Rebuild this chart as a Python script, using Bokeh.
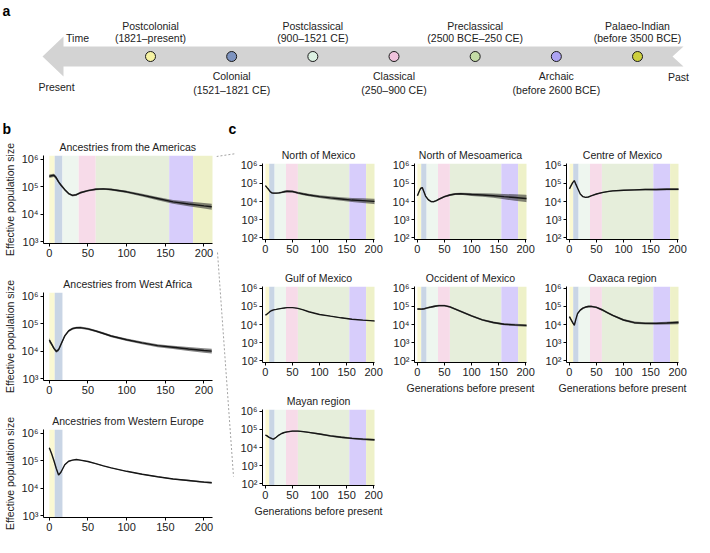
from bokeh.plotting import figure
from bokeh.layouts import column, row
from bokeh.models import Range1d, FixedTicker, CustomJSTickFormatter
from bokeh.core.properties import value
from bokeh.embed import file_html
from bokeh.resources import INLINE

FONT = "Liberation Sans"
TXT = "#222222"

# ---------------- data ----------------
ERA_NAMES = ["Postcolonial", "Colonial", "Postclassical", "Classical",
             "Preclassical", "Archaic", "Palaeo-Indian"]
ERA_DATES = ["(1821–present)", "(1521–1821 CE)", "(900–1521 CE)", "(250–900 CE)",
             "(2500 BCE–250 CE)", "(before 2600 BCE)", "(before 3500 BCE)"]
ERA_CIRCLE_COLORS = ["#f6f3a2", "#7d93bf", "#dcf1e2", "#f0c3dc",
                     "#c4dca6", "#ada3f3", "#cdcf3e"]
ERA_BAND_COLORS = ["#fbf9d3", "#c9d5e5", "#eef6ef", "#f7dbe9",
                   "#e6eedb", "#d7cdfb", "#eef1c9"]
ERA_START_GEN = [0, 7, 17, 38, 60, 155, 186]
ERA_END_GEN = [7, 17, 38, 60, 155, 186, 230]

GENERATIONS = [0, 3, 6, 9, 12, 15, 20, 25, 30, 35, 40, 50, 60, 70, 80,
               100, 120, 140, 160, 180, 200, 210]

AMERICAS_NE = [2.4e5, 2.5e5, 2.6e5, 2.1e5, 1.5e5, 1.15e5, 7.8e4, 5.6e4, 4.8e4, 5.1e4, 6.0e4,
               7.2e4, 8.1e4, 8.3e4, 7.9e4, 6.5e4, 4.9e4, 3.7e4, 2.8e4, 2.35e4, 2.0e4, 1.85e4]
AMERICAS_CI = [0.06, 0.06, 0.06, 0.06, 0.05, 0.05, 0.04, 0.035, 0.035, 0.035, 0.035,
               0.035, 0.035, 0.035, 0.035, 0.04, 0.05, 0.06, 0.07, 0.085, 0.1, 0.11]

WAFRICA_NE = [2.5e4, 1.8e4, 1.26e4, 9.8e3, 1.12e4, 1.74e4, 3.6e4, 5.5e4, 6.6e4, 7.1e4, 7.2e4,
              6.5e4, 5.4e4, 4.4e4, 3.55e4, 2.6e4, 2.0e4, 1.58e4, 1.38e4, 1.2e4, 1.05e4, 1.0e4]
WAFRICA_CI = [0.08, 0.06, 0.05, 0.05, 0.05, 0.05, 0.04, 0.04, 0.04, 0.04, 0.04,
              0.04, 0.04, 0.04, 0.04, 0.045, 0.05, 0.055, 0.06, 0.07, 0.08, 0.085]

WEUROPE_NE = [2.95e5, 1.78e5, 1.0e5, 5.2e4, 3.0e4, 3.8e4, 7.1e4, 9.5e4, 1.05e5, 1.1e5, 1.05e5,
              9.3e4, 7.8e4, 6.5e4, 5.5e4, 4.1e4, 3.2e4, 2.6e4, 2.15e4, 1.9e4, 1.66e4, 1.58e4]
WEUROPE_CI = [0.015, 0.015, 0.015, 0.015, 0.015, 0.015, 0.015, 0.015, 0.015, 0.015, 0.015,
              0.015, 0.015, 0.015, 0.015, 0.015, 0.02, 0.02, 0.02, 0.025, 0.03, 0.03]

NMEX_NE = [7.6e4, 5.9e4, 4.6e4, 3.5e4, 3.0e4, 2.9e4, 2.9e4, 3.0e4, 3.2e4, 3.5e4, 3.7e4,
           3.6e4, 3.0e4, 2.6e4, 2.3e4, 1.86e4, 1.58e4, 1.38e4, 1.2e4, 1.12e4, 1.02e4, 1.0e4]
NMEX_CI = [0.03, 0.03, 0.03, 0.03, 0.04, 0.04, 0.04, 0.05, 0.05, 0.06, 0.06,
           0.06, 0.06, 0.07, 0.07, 0.08, 0.09, 0.1, 0.11, 0.13, 0.15, 0.16]

NMESO_NE = [2.1e4, 3.5e4, 5.4e4, 5.9e4, 3.5e4, 2.0e4, 1.26e4, 1.0e4, 9.8e3, 1.12e4, 1.35e4,
            1.86e4, 2.3e4, 2.6e4, 2.7e4, 2.45e4, 2.3e4, 2.1e4, 1.86e4, 1.66e4, 1.48e4, 1.41e4]
NMESO_CI = [0.04, 0.04, 0.04, 0.04, 0.04, 0.04, 0.04, 0.04, 0.04, 0.04, 0.05,
            0.05, 0.05, 0.06, 0.06, 0.08, 0.1, 0.12, 0.15, 0.18, 0.2, 0.21]

CENTRE_NE = [5.0e4, 7.6e4, 1.12e5, 1.45e5, 8.9e4, 5.6e4, 2.6e4, 1.86e4, 1.7e4, 1.78e4, 2.05e4,
             2.6e4, 3.1e4, 3.55e4, 3.9e4, 4.2e4, 4.4e4, 4.6e4, 4.6e4, 4.8e4, 4.8e4, 4.8e4]
CENTRE_CI = [0.02, 0.02, 0.02, 0.02, 0.02, 0.02, 0.02, 0.02, 0.02, 0.02, 0.025,
             0.025, 0.03, 0.03, 0.03, 0.035, 0.04, 0.045, 0.05, 0.055, 0.06, 0.06]

GULF_NE = [3.3e4, 3.8e4, 4.5e4, 5.4e4, 6.0e4, 6.5e4, 6.9e4, 7.4e4, 7.9e4, 8.3e4, 8.7e4,
           8.7e4, 7.9e4, 6.5e4, 5.1e4, 3.6e4, 2.9e4, 2.35e4, 1.95e4, 1.74e4, 1.58e4, 1.51e4]
GULF_CI = [0.015, 0.015, 0.015, 0.015, 0.015, 0.015, 0.015, 0.015, 0.015, 0.015, 0.015,
           0.015, 0.015, 0.015, 0.015, 0.015, 0.02, 0.02, 0.02, 0.025, 0.025, 0.03]

OCCID_NE = [7.2e4, 7.2e4, 7.1e4, 7.2e4, 7.4e4, 7.9e4, 8.7e4, 9.3e4, 1.0e5, 1.07e5, 1.12e5,
            1.12e5, 9.5e4, 7.2e4, 5.4e4, 3.0e4, 1.82e4, 1.29e4, 1.04e4, 9.5e3, 8.9e3, 8.7e3]
OCCID_CI = [0.05, 0.05, 0.05, 0.05, 0.05, 0.05, 0.05, 0.05, 0.05, 0.05, 0.05,
            0.05, 0.05, 0.05, 0.05, 0.05, 0.05, 0.05, 0.055, 0.06, 0.07, 0.07]

OAXACA_NE = [2.75e4, 1.86e4, 1.26e4, 9.1e3, 2.0e4, 4.0e4, 6.3e4, 8.1e4, 9.3e4, 1.0e5, 1.02e5,
             8.9e4, 6.6e4, 4.6e4, 3.2e4, 1.78e4, 1.26e4, 1.15e4, 1.15e4, 1.2e4, 1.29e4, 1.32e4]
OAXACA_CI = [0.05, 0.05, 0.05, 0.05, 0.05, 0.05, 0.05, 0.05, 0.05, 0.05, 0.05,
             0.05, 0.05, 0.05, 0.05, 0.05, 0.06, 0.06, 0.07, 0.08, 0.09, 0.09]

MAYAN_NE = [4.9e4, 4.4e4, 3.8e4, 3.4e4, 3.1e4, 2.9e4, 3.7e4, 4.9e4, 6.0e4, 6.8e4, 7.4e4,
            8.1e4, 8.1e4, 7.6e4, 6.9e4, 5.6e4, 4.4e4, 3.7e4, 3.2e4, 2.9e4, 2.7e4, 2.6e4]
MAYAN_CI = [0.03, 0.03, 0.03, 0.03, 0.03, 0.03, 0.03, 0.03, 0.03, 0.03, 0.03,
            0.03, 0.03, 0.03, 0.035, 0.04, 0.045, 0.05, 0.05, 0.055, 0.06, 0.06]

X_TICKS = [0, 50, 100, 150, 200]
B_Y_TICKS = [1e3, 1e4, 1e5, 1e6]
C_Y_TICKS = [1e2, 1e3, 1e4, 1e5, 1e6]

SUP_FORMATTER_CODE = """
const e = Math.round(Math.log10(tick));
const sup = {2: '\u00b2', 3: '\u00b3', 4: '\u2074', 5: '\u2075', 6: '\u2076'};
return '10' + sup[e];
"""

# ---------------- panel a: timeline ----------------
TOP_H = 136
pa = figure(width=694, height=TOP_H, x_range=Range1d(0, 694), y_range=Range1d(TOP_H, 0),
            output_backend="svg", toolbar_location=None, min_border=0,
            x_axis_location=None, y_axis_location=None)
pa.outline_line_color = None
pa.grid.visible = False
pa.extra_x_ranges = {"era": Range1d(-1.848, 6.702)}

pa.patch([42, 63, 63, 683, 672, 683, 63, 63], [56, 36, 46, 46, 56, 66, 66, 76],
         fill_color="#d3d3d3", line_color=None)

idx = list(range(len(ERA_NAMES)))
pa.scatter(x=idx, y=[56] * len(idx), size=10, fill_color=ERA_CIRCLE_COLORS,
           line_color="#1a1a1a", line_width=1, x_range_name="era")

up = [i for i in idx if i % 2 == 0]
dn = [i for i in idx if i % 2 == 1]
common = dict(text_font=value(FONT), text_font_size="10.5px", text_color=TXT,
              text_align="center", text_baseline="middle", x_range_name="era")
pa.text(x=up, y=[25] * len(up), text=[ERA_NAMES[i] for i in up], **common)
pa.text(x=up, y=[37] * len(up), text=[ERA_DATES[i] for i in up], **common)
pa.text(x=dn, y=[75] * len(dn), text=[ERA_NAMES[i] for i in dn], **common)
pa.text(x=dn, y=[89] * len(dn), text=[ERA_DATES[i] for i in dn], **common)

plain = dict(text_font=value(FONT), text_font_size="10.5px", text_color=TXT,
             text_align="center", text_baseline="middle")
pa.text(x=[77], y=[37], text=["Time"], **plain)
pa.text(x=[56], y=[86], text=["Present"], **plain)
pa.text(x=[678], y=[76], text=["Past"], **plain)

letters = dict(text_font=value(FONT), text_font_size="14px", text_font_style="bold",
               text_color="#000000", text_align="left", text_baseline="middle")
pa.text(x=[2, 2, 228], y=[10, 128, 128], text=["a", "b", "c"], **letters)


# ---------------- panel helper ----------------
def make_panel(title, ne, ci, n_eras, w, h, bl, br, bt, bb, xr, yr, yticks,
               ylabel=None, xlabel=None):
    p = figure(width=w, height=h, x_range=Range1d(*xr), y_range=Range1d(*yr),
               y_axis_type="log", output_backend="svg", toolbar_location=None,
               min_border_left=bl, min_border_right=br, min_border_top=bt,
               min_border_bottom=bb)
    p.title.text = title
    p.title.text_font = FONT
    p.title.text_font_size = "10.5px"
    p.title.text_font_style = "normal"
    p.title.text_color = TXT
    p.title.align = "center"
    p.title.standoff = 5
    p.outline_line_color = None
    p.grid.visible = False

    p.quad(left=ERA_START_GEN[:n_eras], right=ERA_END_GEN[:n_eras],
           bottom=yr[0], top=yr[1], fill_color=ERA_BAND_COLORS[:n_eras], line_color=None)
    lo = [v / 10 ** c for v, c in zip(ne, ci)]
    hi = [v * 10 ** c for v, c in zip(ne, ci)]
    p.varea(x=GENERATIONS, y1=lo, y2=hi, fill_color="#333333", fill_alpha=0.6)
    p.line(GENERATIONS, ne, line_color="#161616", line_width=1.4)

    p.xaxis.ticker = FixedTicker(ticks=X_TICKS)
    p.yaxis.ticker = FixedTicker(ticks=yticks)
    p.yaxis.formatter = CustomJSTickFormatter(code=SUP_FORMATTER_CODE)
    for ax in (p.xaxis, p.yaxis):
        ax.axis_line_color = "#000000"
        ax.axis_line_width = 1
        ax.major_tick_line_color = "#000000"
        ax.major_tick_out = 3
        ax.major_tick_in = 0
        ax.minor_tick_line_color = None
        ax.major_label_text_font = FONT
        ax.major_label_text_font_size = "11px"
        ax.major_label_text_color = TXT
        ax.major_label_standoff = 2
        ax.axis_label_text_font = FONT
        ax.axis_label_text_font_size = "10.5px"
        ax.axis_label_text_font_style = "normal"
        ax.axis_label_text_color = TXT
        ax.axis_label_standoff = 3
    if ylabel:
        p.yaxis.axis_label = ylabel
    if xlabel:
        p.xaxis.axis_label = xlabel
    return p


B_XR = (-7.5, 211)
B_YR = (10 ** 2.93, 10 ** 6.136)
C_XR = (-5.4, 201.5)
C_YR = (10 ** 1.89, 10 ** 6.11)
YL = "Effective population size"
XL = "Generations before present"

b1 = make_panel("Ancestries from the Americas", AMERICAS_NE, AMERICAS_CI, 7,
                216, 137, 38, 4, 19, 30, B_XR, B_YR, B_Y_TICKS, ylabel=YL)
b2 = make_panel("Ancestries from West Africa", WAFRICA_NE, WAFRICA_CI, 2,
                216, 137, 38, 4, 19, 30, B_XR, B_YR, B_Y_TICKS, ylabel=YL)
b3 = make_panel("Ancestries from Western Europe", WEUROPE_NE, WEUROPE_CI, 2,
                216, 126, 38, 4, 19, 19, B_XR, B_YR, B_Y_TICKS, ylabel=YL)

c11 = make_panel("North of Mexico", NMEX_NE, NMEX_CI, 7,
                 152, 123, 26, 14, 27, 20, C_XR, C_YR, C_Y_TICKS)
c21 = make_panel("Gulf of Mexico", GULF_NE, GULF_CI, 7,
                 152, 123, 26, 14, 27, 20, C_XR, C_YR, C_Y_TICKS)
c31 = make_panel("Mayan region", MAYAN_NE, MAYAN_CI, 7,
                 152, 145, 26, 14, 27, 42, C_XR, C_YR, C_Y_TICKS, xlabel=XL)
c12 = make_panel("North of Mesoamerica", NMESO_NE, NMESO_CI, 7,
                 152, 123, 26, 14, 27, 20, C_XR, C_YR, C_Y_TICKS)
c22 = make_panel("Occident of Mexico", OCCID_NE, OCCID_CI, 7,
                 152, 145, 26, 14, 27, 42, C_XR, C_YR, C_Y_TICKS, xlabel=XL)
c13 = make_panel("Centre of Mexico", CENTRE_NE, CENTRE_CI, 7,
                 152, 123, 26, 14, 27, 20, C_XR, C_YR, C_Y_TICKS)
c23 = make_panel("Oaxaca region", OAXACA_NE, OAXACA_CI, 7,
                 152, 145, 26, 14, 27, 42, C_XR, C_YR, C_Y_TICKS, xlabel=XL)

# connector (dashed zoom lines between panels b and c)
con = figure(width=20, height=400, x_range=Range1d(216, 236), y_range=Range1d(536, 136),
             output_backend="svg", toolbar_location=None, min_border=0,
             x_axis_location=None, y_axis_location=None)
con.outline_line_color = None
con.grid.visible = False
con.line([216, 236], [156, 153], line_color="#8a8a8a", line_width=0.8, line_dash="2 2")
con.line([217, 233], [252, 476], line_color="#8a8a8a", line_width=0.8, line_dash="2 2")

lower = row(column(b1, b2, b3), con, column(c11, c21, c31),
            column(c12, c22), column(c13, c23))
root = column(pa, lower)

open("out.html", "w").write(file_html(root, INLINE))
